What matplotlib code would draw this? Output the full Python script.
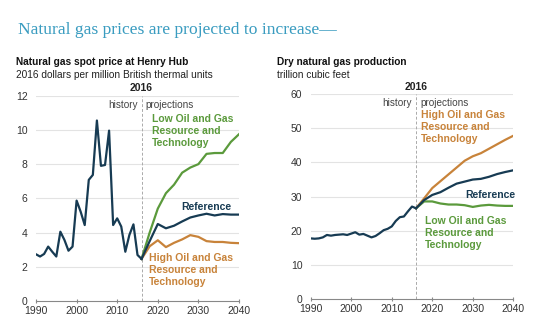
import matplotlib
matplotlib.use("Agg")
import matplotlib.pyplot as plt

# ---------------- data ----------------
hist_years = list(range(1990, 2017))
price_hist = [2.73, 2.6, 2.75, 3.18, 2.88, 2.6, 4.05, 3.57, 2.94, 3.18,
              5.87, 5.22, 4.44, 7.08, 7.37, 10.55, 7.9, 7.95, 9.96, 4.44,
              4.83, 4.35, 2.88, 3.86, 4.48, 2.69, 2.46]

proj_years = [2016, 2018, 2020, 2022, 2024, 2026, 2028, 2030, 2032, 2034, 2036, 2038, 2040]
price_ref = [2.46, 3.5, 4.5, 4.25, 4.4, 4.65, 4.88, 5.0, 5.1, 5.0, 5.08, 5.05, 5.05]
price_low = [2.46, 4.0, 5.4, 6.3, 6.8, 7.5, 7.8, 8.0, 8.6, 8.65, 8.65, 9.3, 9.75]
price_high = [2.46, 3.2, 3.55, 3.15, 3.4, 3.6, 3.85, 3.75, 3.5, 3.45, 3.45, 3.4, 3.38]

prod_hist = [17.8, 17.7, 17.8, 18.1, 18.8, 18.6, 18.8, 18.9, 19.0, 18.8,
             19.2, 19.6, 18.9, 19.1, 18.6, 18.1, 18.5, 19.3, 20.2, 20.6,
             21.3, 22.9, 24.0, 24.2, 25.7, 27.1, 26.6]
prod_ref = [26.6, 29.0, 30.5, 31.3, 32.6, 33.8, 34.4, 35.0, 35.2, 35.8, 36.6, 37.2, 37.7]
prod_high = [26.6, 29.5, 32.5, 34.5, 36.5, 38.5, 40.5, 41.8, 42.7, 44.0, 45.3, 46.6, 47.8]
prod_low = [26.6, 28.6, 28.6, 28.0, 27.7, 27.7, 27.5, 27.0, 27.4, 27.6, 27.4, 27.3, 27.3]

x_ticks = [1990, 2000, 2010, 2020, 2030, 2040]
price_yticks = [0, 2, 4, 6, 8, 10, 12]
prod_yticks = [0, 10, 20, 30, 40, 50, 60]

NAVY = "#173b53"
GREEN = "#5b9a3c"
ORANGE = "#c8833a"
GRID = "#e3e3e3"
TXT = "#333333"

plt.rcParams['font.family'] = ['Liberation Sans', 'DejaVu Sans']

fig = plt.figure(figsize=(5.5, 3.28), dpi=100)
fig.patch.set_facecolor("white")

fig.text(18/550, 1-30/328, "Natural gas prices are projected to increase\u2014",
         family=['Liberation Serif', 'DejaVu Serif'], fontsize=12.6, color="#3a9cc0",
         va="center", ha="left")

def style(ax, yticks, ymax):
    ax.set_xlim(1990, 2040)
    ax.set_ylim(0, ymax)
    ax.set_yticks(yticks)
    ax.set_xticks(x_ticks)
    for s in ["top", "right", "left"]:
        ax.spines[s].set_visible(False)
    ax.spines["bottom"].set_color("#888888")
    ax.spines["bottom"].set_linewidth(0.8)
    ax.tick_params(axis="y", length=0, labelsize=7.5, labelcolor=TXT, pad=6)
    ax.tick_params(axis="x", length=3, direction="inout", color="#888888",
                   labelsize=7.5, labelcolor=TXT, pad=2)
    for t in yticks[1:]:
        ax.axhline(t, color=GRID, lw=0.8, zorder=0)
    ax.axvline(2016, color="#aaaaaa", lw=0.7, ls=(0, (3, 2)), zorder=1)
    ax.text(2016, ymax * 1.012, "2016", ha="center", va="bottom",
            fontsize=7.5, fontweight="bold", color="#222222")
    ax.text(2015, ymax * 0.955, "history", ha="right", va="center", fontsize=7.2, color="#444444")
    ax.text(2017, ymax * 0.955, "projections", ha="left", va="center", fontsize=7.2, color="#444444")

LW = 1.6
# ---- left panel ----
ax1 = fig.add_axes([36/550, 1-301/328, 203/550, (301-95.7)/328])
style(ax1, price_yticks, 12)
ax1.plot(proj_years, price_low, color=GREEN, lw=LW, zorder=3)
ax1.plot(proj_years, price_high, color=ORANGE, lw=LW, zorder=3)
ax1.plot(proj_years, price_ref, color=NAVY, lw=LW, zorder=4)
ax1.plot(hist_years, price_hist, color=NAVY, lw=LW, zorder=4)
lab = dict(fontsize=7.5, fontweight="bold", linespacing=1.25, ha="left", va="top")
ax1.text(2018.6, 10.95, "Low Oil and Gas\nResource and\nTechnology", color=GREEN, **lab)
ax1.text(2032, 5.5, "Reference", color=NAVY, fontsize=7.5, fontweight="bold", ha="center", va="center")
ax1.text(2017.8, 2.8, "High Oil and Gas\nResource and\nTechnology", color=ORANGE, **lab)

fig.text(16/550, 1-62/328, "Natural gas spot price at Henry Hub", fontsize=7.3,
         fontweight="bold", color="#111111", va="center")
fig.text(16/550, 1-75/328, "2016 dollars per million British thermal units", fontsize=7.3,
         color="#222222", va="center")

# ---- right panel ----
ax2 = fig.add_axes([310.7/550, 1-299.3/328, 202.6/550, (299.3-94)/328])
style(ax2, prod_yticks, 60)
ax2.plot(proj_years, prod_low, color=GREEN, lw=LW, zorder=3)
ax2.plot(proj_years, prod_high, color=ORANGE, lw=LW, zorder=3)
ax2.plot(proj_years, prod_ref, color=NAVY, lw=LW, zorder=4)
ax2.plot(hist_years, prod_hist, color=NAVY, lw=LW, zorder=4)
ax2.text(2017.2, 55.3, "High Oil and Gas\nResource and\nTechnology", color=ORANGE, **lab)
ax2.text(2034.3, 30.5, "Reference", color=NAVY, fontsize=7.5, fontweight="bold", ha="center", va="center")
ax2.text(2018.3, 24.3, "Low Oil and Gas\nResource and\nTechnology", color=GREEN, **lab)

fig.text(277/550, 1-62/328, "Dry natural gas production", fontsize=7.3,
         fontweight="bold", color="#111111", va="center")
fig.text(277/550, 1-75/328, "trillion cubic feet", fontsize=7.3,
         color="#222222", va="center")

fig.savefig("out.png", dpi=100, facecolor="white")
